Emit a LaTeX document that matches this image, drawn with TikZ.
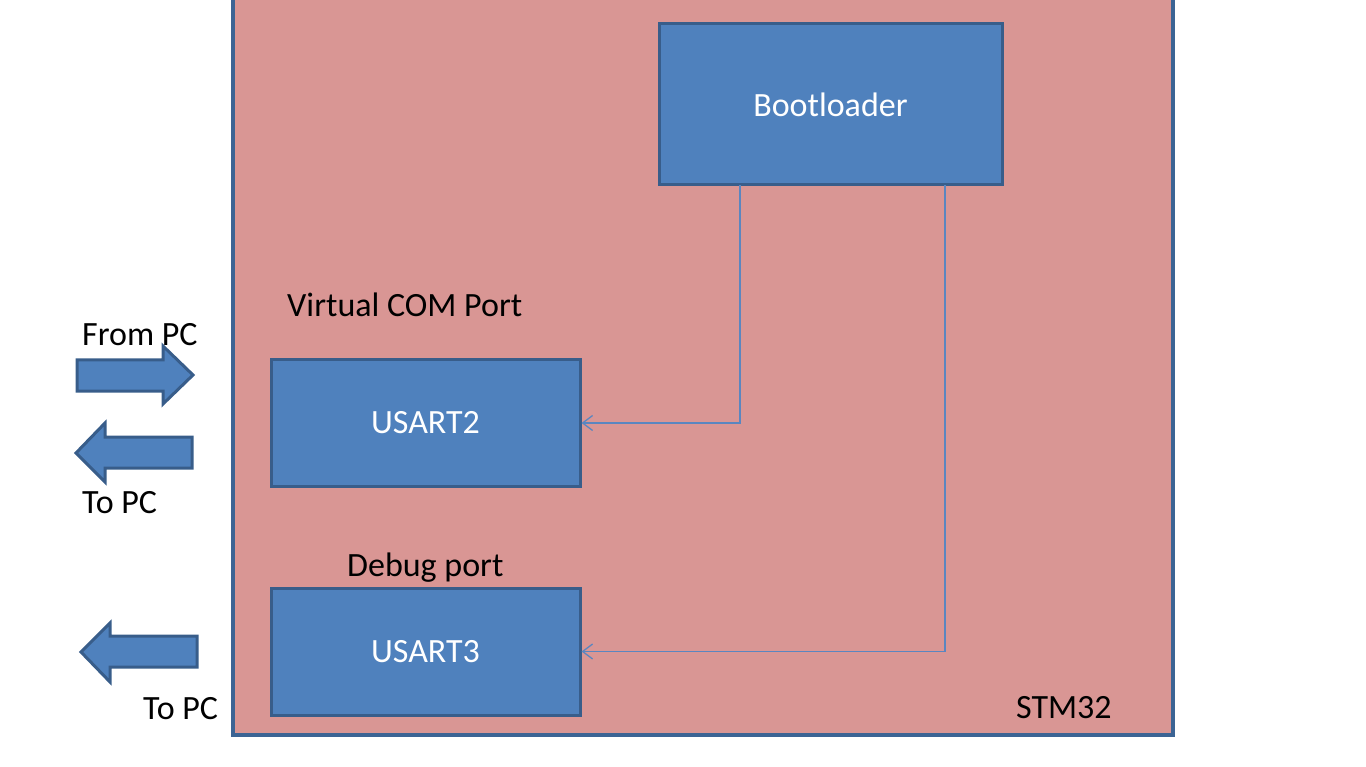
\documentclass[tikz,border=0pt]{standalone}
\usepackage{fontspec}
\setmainfont{Carlito}
\usetikzlibrary{arrows.meta}
\definecolor{chip}{HTML}{D99694}
\definecolor{chipline}{HTML}{3C6494}
\definecolor{boxfill}{HTML}{4F81BD}
\definecolor{boxline}{HTML}{385D8A}
\definecolor{wire}{HTML}{5A86C0}
\tikzset{
  blk/.style={draw=boxline, fill=boxfill, line width=3pt, text=white, inner sep=0pt},
  lbl/.style={anchor=base west, inner sep=0pt, text=black},
  wirel/.style={draw=wire, line width=1.3pt, -{Straight Barb[length=10pt,width=15pt,line width=1.3pt]}},
  barrow/.style={draw=boxline, fill=boxfill, line width=3pt, line join=miter},
}
\begin{document}
\begin{tikzpicture}[x=1pt,y=-1pt,font=\fontsize{34}{40}\selectfont]
\useasboundingbox (0,0) rectangle (1366,767);
% STM32 chip
\draw[fill=chip, draw=chipline, line width=4pt] (233,-10) rectangle (1173,735);
% boxes
\node[blk, minimum width=343pt, minimum height=161pt] (boot) at (830.5,104.5) {\raisebox{-1.5pt}{Bootloader}};
\node[blk, minimum width=309pt, minimum height=126pt] (u2) at (425.5,423) {\raisebox{-1.5pt}{USART2}};
\node[blk, minimum width=309pt, minimum height=127pt] (u3) at (425.5,651.5) {\raisebox{-1.5pt}{USART3}};
% connectors
\coordinate (c1) at (740,185);
\coordinate (c2) at (945,185);
\draw[wirel] (c1) |- (u2.east);
\draw[wirel] (c2) |- (u3.east);
% labels
\node[lbl] (vcp) at (287,317) {Virtual COM Port};
\node[lbl] (dbg) at (347,576) {Debug port};
\node[lbl] (stm) at (1016,718) {STM32};
\node[lbl] (from) at (82,345) {From PC};
\node[lbl] (to1) at (82,513) {To PC};
\node[lbl] (to2) at (143,719) {To PC};
% block arrows
\draw[barrow] (77,360) -- (163,360) -- (163,346) -- (193,375) -- (163,404) -- (163,391) -- (77,391) -- cycle;
\draw[barrow] (192,437) -- (105,437) -- (105,423) -- (76,453) -- (105,482) -- (105,468) -- (192,468) -- cycle;
\draw[barrow] (197,636) -- (110,636) -- (110,623) -- (81,652) -- (110,682) -- (110,667) -- (197,667) -- cycle;
\end{tikzpicture}
\end{document}
